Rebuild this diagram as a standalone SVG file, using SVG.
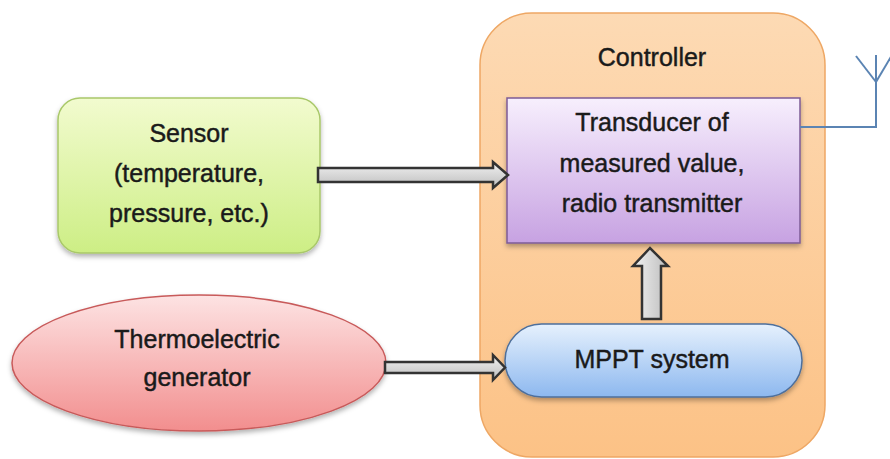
<svg xmlns="http://www.w3.org/2000/svg" width="890" height="459" viewBox="0 0 890 459">
<defs>
<linearGradient id="gCtrl" x1="0" y1="0" x2="0" y2="1"><stop offset="0" stop-color="#fddab4"/><stop offset="1" stop-color="#fcc286"/></linearGradient>
<linearGradient id="gSensor" x1="0" y1="0" x2="0" y2="1"><stop offset="0" stop-color="#f2fbcf"/><stop offset="1" stop-color="#cdee85"/></linearGradient>
<linearGradient id="gTrans" x1="0" y1="0" x2="0" y2="1"><stop offset="0" stop-color="#f7effd"/><stop offset="1" stop-color="#c7a2e2"/></linearGradient>
<linearGradient id="gMppt" x1="0" y1="0" x2="0" y2="1"><stop offset="0" stop-color="#e6f1fd"/><stop offset="1" stop-color="#8db8ef"/></linearGradient>
<linearGradient id="gTeg" x1="0" y1="0" x2="0" y2="1"><stop offset="0" stop-color="#fde3e3"/><stop offset="1" stop-color="#f28e8e"/></linearGradient>
<linearGradient id="gArrH" x1="0" y1="0" x2="0" y2="1"><stop offset="0" stop-color="#f2f2f2"/><stop offset="1" stop-color="#bdbdbd"/></linearGradient>
<linearGradient id="gArrV" x1="0" y1="0" x2="1" y2="0"><stop offset="0" stop-color="#f2f2f2"/><stop offset="1" stop-color="#bdbdbd"/></linearGradient>
<filter id="sh" x="-10%" y="-10%" width="120%" height="130%"><feDropShadow dx="0" dy="3" stdDeviation="2.5" flood-color="#000" flood-opacity="0.3"/></filter>
</defs>
<style>
text{font-family:"Liberation Sans",Arial,sans-serif;font-size:25px;fill:#1a1a1a;stroke:#1a1a1a;stroke-width:0.45;text-anchor:middle}
.arr{stroke:#333333;stroke-width:2.5;stroke-linejoin:miter}
</style>
<rect width="890" height="459" fill="#ffffff"/>
<g id="controller">
<rect x="480" y="13" width="345" height="444" rx="52" fill="url(#gCtrl)" stroke="#eea764" stroke-width="1.5"/>
<text x="652" y="66">Controller</text>
</g>
<g id="sensor">
<rect x="58" y="98" width="262" height="155" rx="22" fill="url(#gSensor)" stroke="#a9c86a" stroke-width="1.5" filter="url(#sh)"/>
<text x="189" y="142">Sensor</text>
<text x="189" y="182">(temperature,</text>
<text x="189" y="222">pressure, etc.)</text>
</g>
<g id="transducer">
<rect x="507" y="98" width="293" height="145" fill="url(#gTrans)" stroke="#7d5b96" stroke-width="1.5" filter="url(#sh)"/>
<text x="652" y="131">Transducer of</text>
<text x="652" y="172">measured value,</text>
<text x="652" y="212">radio transmitter</text>
</g>
<g id="mppt">
<rect x="505" y="324" width="297" height="73" rx="36.5" fill="url(#gMppt)" stroke="#4d6f9c" stroke-width="1.5" filter="url(#sh)"/>
<text x="652" y="368">MPPT system</text>
</g>
<g id="teg">
<ellipse cx="199" cy="363" rx="187" ry="68" fill="url(#gTeg)" stroke="#c85a5a" stroke-width="1.5" filter="url(#sh)"/>
<text x="197" y="348">Thermoelectric</text>
<text x="197" y="386">generator</text>
</g>
<g id="antenna" fill="none" stroke="#5b84b3" stroke-width="2">
<polyline points="800,127 876,127 876,55"/>
<line x1="876" y1="82" x2="856" y2="56"/>
<line x1="876" y1="82" x2="892" y2="55"/>
</g>
<g id="connectors">
<path class="arr" fill="url(#gArrH)" d="M318,168 L493,168 L493,162 L508,175 L493,188 L493,182 L318,182 Z"/>
<path class="arr" fill="url(#gArrH)" d="M385,362 L493,362 L493,355 L505,367.5 L493,380 L493,373 L385,373 Z"/>
<path class="arr" fill="url(#gArrV)" d="M642,319 L642,266 L633,266 L650,248 L668,266 L661,266 L661,319 Z"/>
</g>
</svg>
